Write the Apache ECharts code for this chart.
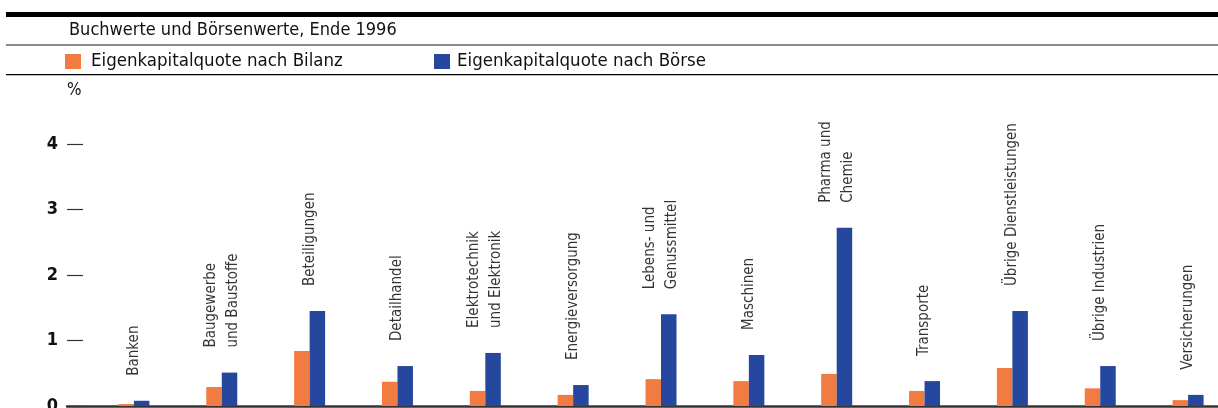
<!DOCTYPE html>
<html>
<head>
<meta charset="utf-8">
<script src="https://cdn.jsdelivr.net/npm/echarts@6/dist/echarts.min.js"></script>
<style>
  html, body { margin: 0; padding: 0; background: #fff; }
  #chart-container { width: 1218px; height: 408px; }
</style>
</head>
<body>
<div id="chart-container"></div>
<script>
const categories = ['Banken', 'Baugewerbe und Baustoffe', 'Beteiligungen', 'Detailhandel',
  'Elektrotechnik und Elektronik', 'Energieversorgung', 'Lebens- und Genussmittel', 'Maschinen',
  'Pharma und Chemie', 'Transporte', 'Übrige Dienstleistungen', 'Übrige Industrien', 'Versicherungen'];
const labelLines = ['Banken', 'Baugewerbe\nund Baustoffe', 'Beteiligungen', 'Detailhandel',
  'Elektrotechnik\nund Elektronik', 'Energieversorgung', 'Lebens- und\nGenussmittel', 'Maschinen',
  'Pharma und\nChemie', 'Transporte', 'Übrige Dienstleistungen', 'Übrige Industrien', 'Versicherungen'];
const bilanz = [0.03, 0.29, 0.84, 0.37, 0.23, 0.17, 0.41, 0.38, 0.49, 0.23, 0.58, 0.27, 0.09];
const boerse = [0.08, 0.51, 1.45, 0.61, 0.81, 0.32, 1.40, 0.78, 2.72, 0.38, 1.45, 0.61, 0.17];
const yTicks = [0, 1, 2, 3, 4];

const FONT = '"DejaVu Sans Condensed", "DejaVu Sans", sans-serif';

let dom = document.getElementById('chart-container');
let myChart = echarts.init(dom, null, { renderer: 'canvas' });

let option = {
  animation: false,
  textStyle: { fontFamily: FONT },
  title: {
    text: 'Buchwerte und Börsenwerte, Ende 1996',
    left: 69,
    top: 21,
    padding: 0,
    textStyle: { fontFamily: FONT, fontSize: 18, fontWeight: 'normal', color: '#111' }
  },
  legend: [
    {
      data: ['Eigenkapitalquote nach Bilanz'],
      left: 65, top: 52, padding: 0,
      icon: 'rect', itemWidth: 16, itemHeight: 15,
      textStyle: { fontFamily: FONT, fontSize: 18.5, color: '#111', padding: [0, 0, 0, 5] }
    },
    {
      data: ['Eigenkapitalquote nach Börse'],
      left: 434, top: 52, padding: 0,
      icon: 'rect', itemWidth: 16, itemHeight: 15,
      textStyle: { fontFamily: FONT, fontSize: 18.5, color: '#111', padding: [0, 0, 0, 2] }
    }
  ],
  graphic: [
    { type: 'rect', shape: { x: 6, y: 12, width: 1212, height: 5 }, style: { fill: '#000' } },
    { type: 'rect', shape: { x: 6, y: 44, width: 1212, height: 2 }, style: { fill: '#8a8a8a' } },
    { type: 'rect', shape: { x: 6, y: 74, width: 1212, height: 1.2 }, style: { fill: '#000' } }
  ],
  grid: [
    { left: 90, top: 144, width: 1142, height: 262, outerBoundsMode: 'none' },
    { left: 67, top: 144, right: 0, height: 262, outerBoundsMode: 'none' }
  ],
  xAxis: [
    {
      type: 'category', gridIndex: 0, data: categories,
      axisLine: { show: false }, axisTick: { show: false }, axisLabel: { show: false }
    },
    {
      type: 'category', gridIndex: 1, data: [''],
      axisLine: { show: true, lineStyle: { color: '#333', width: 2.5 } },
      axisTick: { show: false }, axisLabel: { show: false }
    }
  ],
  yAxis: [
    {
      type: 'value', gridIndex: 0,
      min: yTicks[0], max: yTicks[yTicks.length - 1], interval: 1,
      offset: 23,
      name: '%', nameLocation: 'end', nameGap: 53,
      nameTextStyle: { fontFamily: FONT, fontSize: 17, color: '#111', align: 'left', verticalAlign: 'middle' },
      axisLine: { show: false },
      axisTick: { show: true, inside: true, length: 16, lineStyle: { color: '#333', width: 1.2 } },
      axisLabel: { fontFamily: FONT, fontSize: 18, fontWeight: 'bold', color: '#111', margin: 9 },
      splitLine: { show: false }
    },
    { type: 'value', gridIndex: 1, min: 0, max: 4, show: false }
  ],
  series: [
    {
      name: 'Eigenkapitalquote nach Bilanz',
      type: 'bar', xAxisIndex: 0, yAxisIndex: 0,
      data: bilanz, barWidth: 15.5, barGap: '0%',
      itemStyle: { color: '#F27B42' }
    },
    {
      name: 'Eigenkapitalquote nach Börse',
      type: 'bar', xAxisIndex: 0, yAxisIndex: 0,
      data: boerse, barWidth: 15.5, barGap: '0%',
      itemStyle: { color: '#25479D' }
    },
    {
      type: 'scatter', xAxisIndex: 0, yAxisIndex: 0,
      data: boerse, symbolSize: 0, silent: true,
      label: {
        show: true, position: 'top', distance: 25, rotate: 90,
        align: 'left', verticalAlign: 'middle',
        fontFamily: FONT, fontSize: 15, lineHeight: 22, color: '#000',
        formatter: (p) => labelLines[p.dataIndex]
      }
    }
  ]
};

myChart.setOption(option);
window.addEventListener('resize', myChart.resize);
</script>
</body>
</html>
